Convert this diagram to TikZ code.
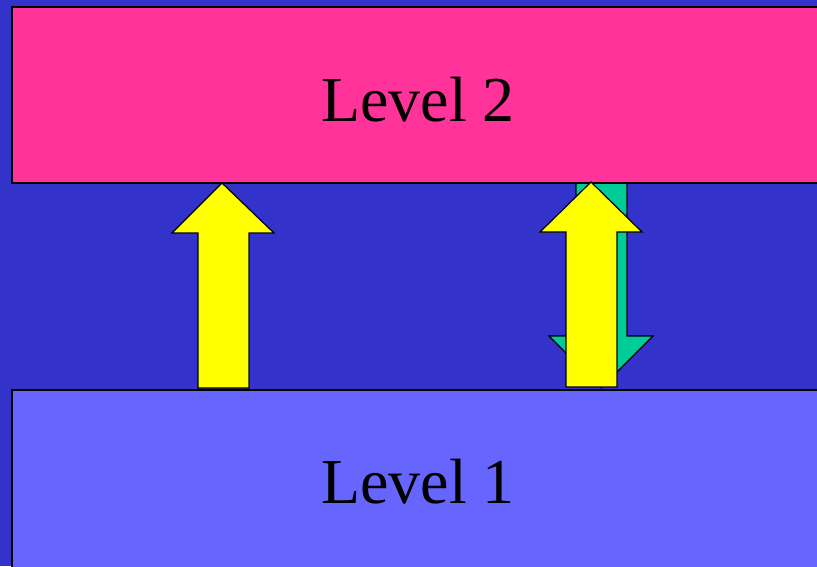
\documentclass[tikz,border=0pt]{standalone}
\usepackage{fontspec}
\setmainfont{Liberation Serif}
\begin{document}
\begin{tikzpicture}[x=1pt,y=-1pt,
  levelbox/.style={draw=black,line width=1.2pt},
  yarrow/.style={draw=black,line width=1.2pt,fill=arrowyellow,line join=miter},
  garrow/.style={draw=black,line width=1.2pt,fill=arrowgreen,line join=miter},
  lbl/.style={font=\fontsize{64}{64}\selectfont,text=black}]
\definecolor{bgblue}{HTML}{3333CC}
\definecolor{levelpink}{HTML}{FF3399}
\definecolor{levelblue}{HTML}{6666FF}
\definecolor{arrowyellow}{HTML}{FFFF00}
\definecolor{arrowgreen}{HTML}{00CC99}
\useasboundingbox (0,0) rectangle (817,566);
\clip (0,0) rectangle (817,566);
\fill[bgblue] (0,0) rectangle (817,566);
% green down arrow (behind)
\draw[garrow] (576,180) -- (627,180) -- (627,336) -- (653,336) -- (601,388) -- (549,336) -- (576,336) -- cycle;
% boxes
\draw[levelbox,fill=levelpink] (12,7) rectangle (840,183);
\draw[levelbox,fill=levelblue] (12,390) rectangle (840,580);
\node[lbl] (l2) at (418,100) {Level 2};
\node[lbl] (l1) at (418,482) {Level 1};
% yellow up arrows
\draw[yarrow] (198,388) -- (198,233) -- (172,233) -- (222,183) -- (274,233) -- (249,233) -- (249,388) -- cycle;
\draw[yarrow] (566,387) -- (566,232) -- (540,232) -- (591,182) -- (642,232) -- (617,232) -- (617,387) -- cycle;
\end{tikzpicture}
\end{document}
